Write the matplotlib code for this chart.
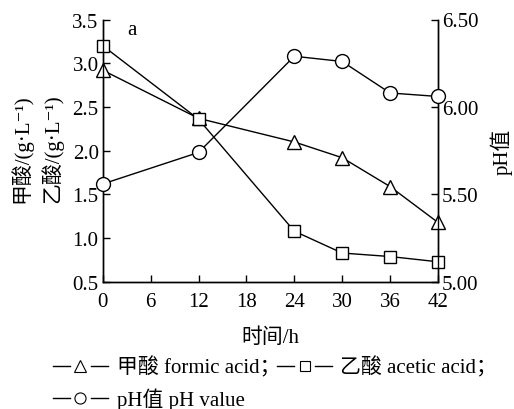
import numpy as np
import matplotlib.pyplot as plt
from matplotlib.lines import Line2D

plt.rcParams['font.family'] = ['Liberation Serif', 'DejaVu Serif', 'Noto Sans CJK SC']

time_h = [0, 12, 24, 30, 36, 42]
formic = [2.92, 2.37, 2.10, 1.92, 1.59, 1.18]
acetic = [3.20, 2.36, 1.08, 0.83, 0.79, 0.73]
ph_val = [5.56, 5.74, 6.29, 6.26, 6.08, 6.06]

x_ticks = [0, 6, 12, 18, 24, 30, 36, 42]
left_ticks = [0.5, 1.0, 1.5, 2.0, 2.5, 3.0, 3.5]
right_ticks = [5.00, 5.50, 6.00, 6.50]

fs = 15
mk = dict(markerfacecolor='white', markeredgecolor='black', markeredgewidth=1.0,
          color='black', linewidth=1.0)

fig = plt.figure(figsize=(5.14, 4.10), dpi=100)
ax = fig.add_axes([0.200, 0.310, 0.652, 0.640])
ax2 = ax.twinx()

ax.plot(time_h, formic, marker='^', markersize=10, **mk, zorder=3)
ax.plot(time_h, acetic, marker='s', markersize=9, **mk, zorder=3)
ax2.plot(time_h, ph_val, marker='o', markersize=10, **mk, zorder=3)

ax.set_xlim(0, 42)
ax.set_ylim(0.5, 3.5)
ax2.set_ylim(5.0, 6.5)
ax.set_xticks(x_ticks)
ax.set_yticks(left_ticks)
ax.set_yticklabels([f'{v:.1f}' for v in left_ticks])
ax2.set_yticks(right_ticks)
ax2.set_yticklabels([f'{v:.2f}' for v in right_ticks])

for a in (ax, ax2):
    a.spines['top'].set_visible(False)
    for s in a.spines.values():
        s.set_linewidth(1.0)
    a.tick_params(direction='in', length=5, width=1.0, labelsize=fs, pad=3)
ax.tick_params(axis='x', pad=7)

for p in ax.get_lines() + ax2.get_lines():
    p.set_clip_on(False)

ax.set_xlabel('时间/h', fontsize=fs, labelpad=12)
ax2.set_ylabel('pH值', fontsize=fs, rotation=90, labelpad=8)
fig.text(0.040, 0.638, '甲酸/(g·L⁻¹)', rotation=90, fontsize=fs,
         ha='center', va='center')
fig.text(0.100, 0.638, '乙酸/(g·L⁻¹)', rotation=90, fontsize=fs,
         ha='center', va='center')
ax.text(3.6, 3.39, 'a', fontsize=fs, ha='center', va='center')

# legend rows drawn as text with small dash+marker+dash handles
def handle(x0, y, marker, ms):
    for a0, a1 in [(x0, x0 + 0.033), (x0 + 0.074, x0 + 0.107)]:
        fig.add_artist(Line2D([a0, a1], [y, y], transform=fig.transFigure,
                              color='black', linewidth=1.0))
    fig.add_artist(Line2D([x0 + 0.0535], [y], transform=fig.transFigure,
                          marker=marker, markersize=ms, markerfacecolor='white',
                          markeredgecolor='black', markeredgewidth=0.8,
                          linestyle='none'))

y1, y2 = 0.104, 0.026
handle(0.103, y1, '^', 9)
fig.text(0.228, y1, '甲酸 formic acid；', fontsize=fs, va='center')
handle(0.539, y1, 's', 7)
fig.text(0.661, y1, '乙酸 acetic acid；', fontsize=fs, va='center')
handle(0.103, y2, 'o', 8)
fig.text(0.228, y2, 'pH值 pH value', fontsize=fs, va='center')

fig.savefig('out.png', dpi=100)
